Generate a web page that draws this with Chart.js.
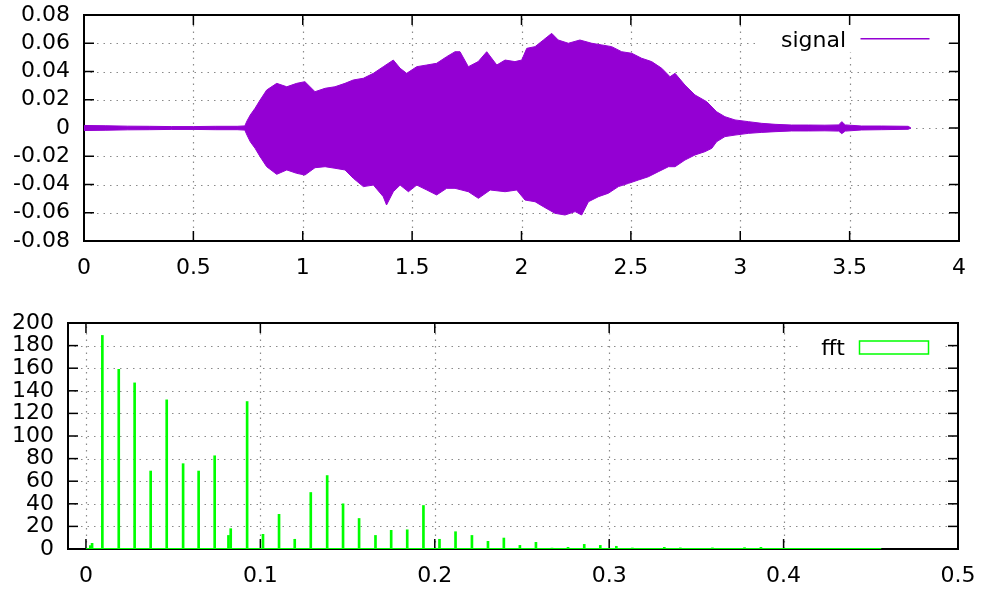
<!DOCTYPE html>
<html><head><meta charset="utf-8">
<script src="https://cdn.jsdelivr.net/npm/chart.js@4.4.1/dist/chart.umd.min.js"></script>
<style>
html,body{margin:0;padding:0;background:#fff;}
#wrap{position:relative;width:983px;height:590px;background:#fff;}
.box{position:absolute;left:0;width:983px;height:295px;}
</style></head><body>
<div id="wrap">
<div class="box" style="top:0"><canvas id="c1" width="983" height="295"></canvas></div>
<div class="box" style="top:295px"><canvas id="c2" width="983" height="295"></canvas></div>
</div>
<script>
// ---------- data ----------
// signal envelope (seconds, amplitude)
const sigUpperT = [0,0.1,0.2,0.3,0.4,0.5,0.6,0.7,0.735,0.745,0.76,0.782,0.805,0.835,0.881,0.927,0.972,1.01,1.056,1.102,1.147,1.193,1.231,1.277,1.323,1.368,1.414,1.445,1.475,1.521,1.567,1.612,1.658,1.696,1.719,1.757,1.802,1.841,1.887,1.925,1.97,2.001,2.024,2.062,2.1,2.138,2.168,2.214,2.267,2.321,2.367,2.412,2.458,2.504,2.549,2.595,2.641,2.679,2.702,2.747,2.793,2.847,2.892,2.93,2.976,3.037,3.098,3.159,3.235,3.311,3.387,3.45,3.464,3.48,3.555,3.646,3.768,3.78];
const sigUpperV = [0.0018,0.0016,0.0013,0.0012,0.001,0.001,0.0012,0.0012,0.0015,0.005,0.0092,0.014,0.0198,0.0269,0.0316,0.0292,0.0316,0.0328,0.0257,0.0281,0.0292,0.0316,0.034,0.0352,0.0387,0.0434,0.0481,0.0423,0.0387,0.0434,0.0446,0.0458,0.0505,0.054,0.054,0.0434,0.047,0.054,0.0446,0.0481,0.047,0.0481,0.0564,0.0576,0.0623,0.067,0.0623,0.06,0.0623,0.06,0.0588,0.0576,0.054,0.0529,0.0494,0.047,0.0423,0.0363,0.0387,0.0304,0.0234,0.0186,0.0115,0.008,0.0057,0.0045,0.0033,0.0026,0.0021,0.0021,0.002,0.0022,0.0045,0.0022,0.0014,0.0014,0.0012,0];
const sigLowerT = [0,0.1,0.2,0.3,0.4,0.5,0.6,0.7,0.735,0.745,0.76,0.782,0.805,0.835,0.881,0.927,0.972,1.01,1.056,1.102,1.147,1.193,1.231,1.277,1.323,1.368,1.383,1.414,1.445,1.483,1.521,1.567,1.612,1.658,1.696,1.757,1.803,1.857,1.925,1.978,2.016,2.062,2.1,2.153,2.199,2.245,2.275,2.306,2.352,2.397,2.443,2.489,2.535,2.58,2.626,2.672,2.702,2.747,2.793,2.838,2.87,2.892,2.93,2.976,3.037,3.098,3.159,3.235,3.311,3.387,3.45,3.464,3.48,3.555,3.646,3.768,3.78];
const sigLowerV = [-0.0018,-0.0016,-0.0013,-0.0012,-0.001,-0.001,-0.0012,-0.0012,-0.0015,-0.005,-0.0097,-0.0144,-0.0203,-0.0274,-0.0328,-0.0297,-0.0321,-0.0333,-0.0281,-0.0274,-0.0285,-0.0297,-0.0356,-0.0415,-0.0404,-0.0486,-0.0545,-0.0451,-0.0404,-0.0451,-0.0404,-0.0439,-0.0474,-0.0427,-0.0427,-0.0451,-0.0498,-0.0439,-0.0451,-0.0439,-0.051,-0.0522,-0.0557,-0.0604,-0.0616,-0.0592,-0.0616,-0.0522,-0.0486,-0.0462,-0.0415,-0.0392,-0.0368,-0.0345,-0.0309,-0.0274,-0.0274,-0.0227,-0.0191,-0.0168,-0.0144,-0.0097,-0.0061,-0.005,-0.0038,-0.0031,-0.0026,-0.0021,-0.0021,-0.002,-0.0022,-0.004,-0.0022,-0.0014,-0.0012,-0.0009,0];

// fft peaks (normalised frequency, magnitude)
const fftFreq = [0.0025,0.0035,0.0094,0.0188,0.0279,0.0371,0.0463,0.0557,0.0646,0.0738,0.0817,0.083,0.0924,0.1015,0.1107,0.1197,0.1289,0.1383,0.1474,0.1566,0.166,0.175,0.1842,0.1935,0.2027,0.2119,0.2213,0.2305,0.2396,0.2488,0.258,0.2672,0.2764,0.2857,0.2949,0.3041,0.3133,0.3316,0.3408,0.3592,0.3776,0.387];
const fftMag  = [3,5,189,159,147,69,132,75.5,69,82.5,12,18,130.5,13,30.7,8.6,50,65,40,27,12,16.5,17,38.5,8.6,15.3,12,6.8,9.7,3.2,5.9,0.8,1.5,4.1,3.2,2.4,0.9,1.5,1,1,1.2,1.5];
const fftFloorRange = [0, 0.456];

// axes
const topXTicks = [0,0.5,1,1.5,2,2.5,3,3.5,4];
const topXLabels = ['0','0.5','1','1.5','2','2.5','3','3.5','4'];
const topYTicks = [-0.08,-0.06,-0.04,-0.02,0,0.02,0.04,0.06,0.08];
const topYLabels = ['-0.08','-0.06','-0.04','-0.02','0','0.02','0.04','0.06','0.08'];
const botXTicks = [0,0.1,0.2,0.3,0.4,0.5];
const botXLabels = ['0','0.1','0.2','0.3','0.4','0.5'];
const botYTicks = [0,20,40,60,80,100,120,140,160,180,200];
const botYLabels = ['0','20','40','60','80','100','120','140','160','180','200'];

const SIGNAL_COLOR = '#9400d3';
const FFT_COLOR = '#00ff00';
const FONT = "'DejaVu Sans', 'Liberation Sans', sans-serif";

Chart.defaults.font.family = FONT;
Chart.defaults.font.size = 22;
Chart.defaults.color = '#000';
Chart.defaults.animation = false;

function keyRect(chart, k) {
  const a = chart.chartArea, ctx = chart.ctx;
  ctx.save(); ctx.font = '22px ' + FONT;
  const tw = ctx.measureText(k.label).width; ctx.restore();
  const sampleRight = a.right - 29.5, sampleLeft = sampleRight - 69;
  const textRight = sampleLeft - 14.5;
  const left = textRight - tw - 21;
  return {x: left, y: a.top, w: sampleRight + 15 - left, h: 37, sampleLeft, sampleRight, textRight};
}

function gnuplotLook(k) {
  return {
    id: 'gnuplotLook',
    beforeDraw(chart) {
      const {ctx, chartArea: a} = chart, x = chart.scales.x, y = chart.scales.y;
      const r = keyRect(chart, k);
      ctx.save();
      ctx.beginPath();
      ctx.rect(a.left, a.top, a.right - a.left, a.bottom - a.top);
      ctx.rect(r.x, r.y, r.w, r.h);
      ctx.clip('evenodd');
      ctx.strokeStyle = '#8a8a8a'; ctx.lineWidth = 1.2; ctx.setLineDash([1.5, 5]);
      x.ticks.forEach(t => {
        const px = Math.round(x.getPixelForValue(t.value)) + 0.5;
        if (Math.abs(px - a.left) < 3 || Math.abs(px - a.right) < 3) return;
        ctx.beginPath(); ctx.moveTo(px, a.bottom); ctx.lineTo(px, a.top); ctx.stroke();
      });
      y.ticks.forEach(t => {
        const py = Math.round(y.getPixelForValue(t.value)) + 0.5;
        if (Math.abs(py - a.top) < 3 || Math.abs(py - a.bottom) < 3) return;
        ctx.beginPath(); ctx.moveTo(a.left, py); ctx.lineTo(a.right, py); ctx.stroke();
      });
      ctx.restore();
    },
    beforeDatasetsDraw(chart) {
      const {ctx, chartArea: a} = chart, x = chart.scales.x, y = chart.scales.y;
      ctx.save();
      ctx.strokeStyle = '#000';
      ctx.lineWidth = 1.5;
      const TL = 10;
      x.ticks.forEach(t => {
        const px = x.getPixelForValue(t.value);
        ctx.beginPath(); ctx.moveTo(px, a.bottom); ctx.lineTo(px, a.bottom - TL); ctx.stroke();
        ctx.beginPath(); ctx.moveTo(px, a.top); ctx.lineTo(px, a.top + TL); ctx.stroke();
      });
      y.ticks.forEach(t => {
        const py = y.getPixelForValue(t.value);
        ctx.beginPath(); ctx.moveTo(a.left, py); ctx.lineTo(a.left + TL, py); ctx.stroke();
        ctx.beginPath(); ctx.moveTo(a.right, py); ctx.lineTo(a.right - TL, py); ctx.stroke();
      });
      ctx.lineWidth = 2;
      ctx.strokeRect(a.left, a.top, a.right - a.left, a.bottom - a.top);
      ctx.restore();
    },
    afterDraw(chart) {
      const ctx = chart.ctx, a = chart.chartArea;
      const r = keyRect(chart, k);
      ctx.save();
      ctx.font = '22px ' + FONT; ctx.fillStyle = '#000';
      ctx.textAlign = 'right'; ctx.textBaseline = 'alphabetic';
      ctx.fillText(k.label, r.textRight, a.top + 31.5);
      ctx.strokeStyle = k.color;
      if (k.kind === 'line') {
        ctx.lineWidth = 1.5;
        ctx.beginPath(); ctx.moveTo(r.sampleLeft, a.top + 23.7); ctx.lineTo(r.sampleRight, a.top + 23.7); ctx.stroke();
      } else {
        ctx.lineWidth = 1.5;
        ctx.strokeRect(r.sampleLeft, a.top + 18, r.sampleRight - r.sampleLeft, 13);
      }
      ctx.restore();
    }
  };
}

function fixedAxis(size, isX, ticks, labels, min, max) {
  return {
    type: 'linear', min, max, offset: false,
    grid: {display: false, drawTicks: false, offset: false},
    border: {display: false},
    afterBuildTicks: s => { s.ticks = ticks.map(v => ({value: v})); },
    ticks: {
      padding: isX ? 14 : 14, maxRotation: 0, autoSkip: false,
      callback: (v, i) => labels[i],
      font: {size: 22, family: FONT}, color: '#000'
    },
    afterFit: s => {
      if (isX) s.height = size; else s.width = size;
      s.paddingLeft = 0; s.paddingRight = 0; s.paddingTop = 0; s.paddingBottom = 0;
    }
  };
}

new Chart(document.getElementById('c1'), {
  type: 'line',
  data: {
    datasets: [
      {label: 'signal', data: sigUpperT.map((t, i) => ({x: t, y: sigUpperV[i]})),
       borderColor: SIGNAL_COLOR, backgroundColor: SIGNAL_COLOR, borderWidth: 1,
       pointRadius: 0, fill: 'origin', tension: 0},
      {label: 'signal', data: sigLowerT.map((t, i) => ({x: t, y: sigLowerV[i]})),
       borderColor: SIGNAL_COLOR, backgroundColor: SIGNAL_COLOR, borderWidth: 1,
       pointRadius: 0, fill: 'origin', tension: 0}
    ]
  },
  options: {
    responsive: false, animation: false, parsing: true,
    layout: {padding: {top: 15, right: 24, left: 0, bottom: 0}},
    plugins: {legend: {display: false}, tooltip: {enabled: false}},
    scales: {
      x: fixedAxis(54, true, topXTicks, topXLabels, 0, 4),
      y: fixedAxis(84, false, topYTicks, topYLabels, -0.08, 0.08)
    }
  },
  plugins: [gnuplotLook({label: 'signal', color: SIGNAL_COLOR, kind: 'line'})]
});

new Chart(document.getElementById('c2'), {
  type: 'bar',
  data: {
    datasets: [
      {type: 'bar', label: 'fft', data: fftFreq.map((f, i) => ({x: f, y: fftMag[i]})),
       backgroundColor: FFT_COLOR, borderColor: FFT_COLOR, borderWidth: 0,
       barThickness: 2, grouped: false},
      {type: 'line', label: 'floor', data: fftFloorRange.map(f => ({x: f, y: 0})),
       borderColor: FFT_COLOR, borderWidth: 2, pointRadius: 0, fill: false}
    ]
  },
  options: {
    responsive: false, animation: false,
    layout: {padding: {top: 28, right: 25, left: 0, bottom: 0}},
    plugins: {legend: {display: false}, tooltip: {enabled: false}},
    scales: {
      x: fixedAxis(41, true, botXTicks, botXLabels, -0.0103, 0.5),
      y: fixedAxis(68, false, botYTicks, botYLabels, 0, 200)
    }
  },
  plugins: [gnuplotLook({label: 'fft', color: FFT_COLOR, kind: 'box'})]
});
</script>
</body></html>
